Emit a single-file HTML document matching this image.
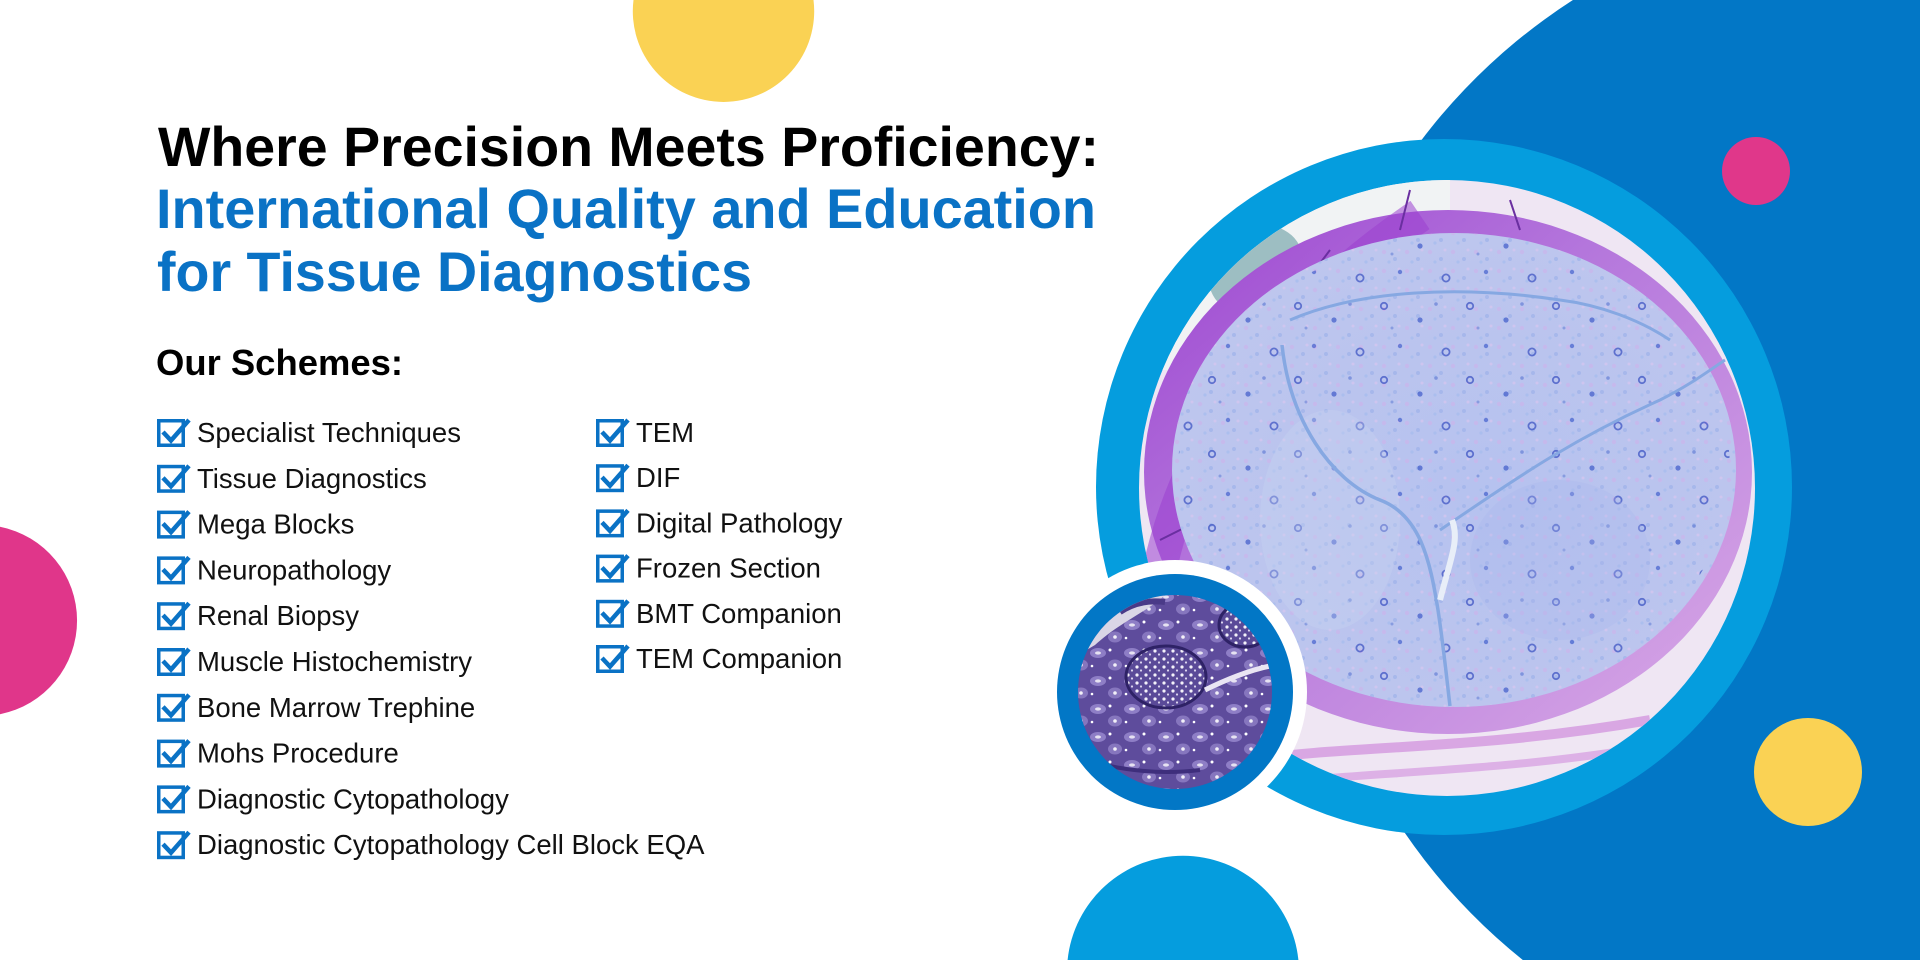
<!DOCTYPE html>
<html>
<head>
<meta charset="utf-8">
<style>
html,body{margin:0;padding:0;width:1920px;height:960px;overflow:hidden;background:#ffffff;}
svg{display:block;overflow:hidden;}
</style>
</head>
<body>
<svg width="1920" height="960" viewBox="0 0 1920 960" xmlns="http://www.w3.org/2000/svg">
<defs>
  <clipPath id="frame"><rect x="0" y="0" width="1920" height="960"/></clipPath>
  <clipPath id="bigClip"><circle cx="1447" cy="488" r="308"/></clipPath>
  <clipPath id="smallClip"><circle cx="1175" cy="692" r="97"/></clipPath>
  <linearGradient id="bandGrad" x1="0" y1="0" x2="1" y2="1">
    <stop offset="0" stop-color="#9C45D0"/>
    <stop offset="0.4" stop-color="#B476DC"/>
    <stop offset="1" stop-color="#D9AAE6"/>
  </linearGradient>
  <radialGradient id="fascGrad" cx="0.55" cy="0.55" r="0.6">
    <stop offset="0" stop-color="#B6C2EF"/>
    <stop offset="1" stop-color="#BEC6EE"/>
  </radialGradient>
  <pattern id="speck" width="23" height="19" patternUnits="userSpaceOnUse">
    <circle cx="4" cy="5" r="2.2" fill="#CBB6EC" opacity="0.7"/>
    <circle cx="15" cy="12" r="2" fill="#9FB2EA" opacity="0.7"/>
    <circle cx="19" cy="3" r="1.5" fill="#D7C7F0" opacity="0.7"/>
    <circle cx="9" cy="15" r="1.6" fill="#A6BDEE" opacity="0.7"/>
  </pattern>
  <pattern id="dots" width="86" height="74" patternUnits="userSpaceOnUse">
    <circle cx="8" cy="10" r="3.2" fill="none" stroke="#2C44BC" stroke-width="1.8"/>
    <circle cx="44" cy="24" r="2.6" fill="#3451C6"/>
    <circle cx="70" cy="56" r="3.6" fill="none" stroke="#2C44BC" stroke-width="1.8"/>
    <circle cx="24" cy="50" r="2.2" fill="#3A58CA"/>
    <circle cx="60" cy="8" r="1.8" fill="#5F7AD4"/>
    <circle cx="16" cy="32" r="1.5" fill="#6C86D8"/>
  </pattern>
  <pattern id="kidney" width="34" height="28" patternUnits="userSpaceOnUse">
    <ellipse cx="10" cy="9" rx="8" ry="5" fill="#8E7EC6"/>
    <ellipse cx="10" cy="9" rx="3" ry="1.6" fill="#E6E2F2"/>
    <ellipse cx="27" cy="21" rx="7" ry="5.5" fill="#8676BE"/>
    <circle cx="27" cy="21" r="1.8" fill="#F2F0F8"/>
    <circle cx="22" cy="6" r="1.5" fill="#FFFFFF"/>
    <circle cx="4" cy="22" r="1.3" fill="#FFFFFF"/>
  </pattern>
  <pattern id="glom" width="9" height="8" patternUnits="userSpaceOnUse">
    <rect width="9" height="8" fill="#5A4A98"/>
    <circle cx="3" cy="3" r="1.6" fill="#F4F2FA"/>
    <circle cx="7" cy="6.5" r="1.1" fill="#DCD6EE"/>
  </pattern>
</defs>

<g clip-path="url(#frame)">
<!-- decorative circles (trimmed to frame) -->
<path d="M1572.9,0 L1920,0 L1920,960 L1522.8,960 A592,592 0 0 1 1572.9,0 Z" fill="#0277C6"/>
<path d="M633.5,0 A90.7,90.7 0 1 0 813.5,0 Z" fill="#FAD254"/>
<path d="M0,526.8 A95.5,95.5 0 0 1 0,714.2 Z" fill="#E0368A"/>
<circle cx="1756" cy="171" r="34" fill="#E0378A"/>
<circle cx="1808" cy="772" r="54" fill="#FAD254"/>
<path d="M1067.6,960 A116,116 0 0 1 1298.4,960 Z" fill="#059DDE"/>

<!-- big ring -->
<circle cx="1444" cy="487" r="348" fill="#059DDE"/>

<!-- big micrograph -->
<g clip-path="url(#bigClip)">
  <rect x="1139" y="180" width="616" height="616" fill="#EFE6F3"/>
  <rect x="1139" y="180" width="311" height="190" fill="#F1F3F4"/>
  <ellipse cx="1256" cy="270" rx="50" ry="42" fill="#9DBEC2" transform="rotate(-35 1256 270)"/>
  <path d="M1250,760 C1350,745 1480,750 1650,720" stroke="#D9A7E3" stroke-width="10" fill="none"/>
  <path d="M1260,785 C1360,772 1500,772 1640,748" stroke="#DDB1E6" stroke-width="8" fill="none"/>
  <ellipse cx="1448" cy="472" rx="304" ry="262" fill="url(#bandGrad)"/>
  <path d="M1150,640 C1160,480 1250,330 1420,215" stroke="#9A3FCF" stroke-width="34" fill="none" opacity="0.55"/>
  <path d="M1180,420 L1230,395 M1200,520 L1160,540 M1300,290 L1330,250 M1400,230 L1410,190 M1510,200 L1520,230" stroke="#6A2FA0" stroke-width="2" fill="none"/>
  <ellipse cx="1454" cy="470" rx="282" ry="237" fill="url(#fascGrad)"/>
  <ellipse cx="1454" cy="470" rx="282" ry="237" fill="url(#speck)"/>
  <ellipse cx="1454" cy="470" rx="276" ry="231" fill="url(#dots)" opacity="0.65"/>
  <ellipse cx="1330" cy="520" rx="70" ry="110" fill="#C9D3F2" opacity="0.35"/>
  <ellipse cx="1560" cy="560" rx="90" ry="80" fill="#A9B6EA" opacity="0.3"/>
  <path d="M1290,320 C1360,290 1460,285 1560,300 C1600,305 1640,320 1670,340" stroke="#86A8E2" stroke-width="3" fill="none"/>
  <path d="M1282,345 C1290,420 1330,480 1380,500 C1420,515 1430,560 1438,610 C1444,650 1448,690 1450,706" stroke="#86A8E2" stroke-width="3.5" fill="none"/>
  <path d="M1440,530 C1500,490 1560,445 1660,400 C1690,385 1710,370 1725,360" stroke="#86A8E2" stroke-width="3" fill="none"/>
  <path d="M1440,600 C1450,560 1460,540 1452,520" stroke="#E8EEF8" stroke-width="6" fill="none"/>
</g>

<!-- small circle -->
<circle cx="1175" cy="692" r="132" fill="#FFFFFF"/>
<circle cx="1175" cy="692" r="118" fill="#0277C6"/>
<g clip-path="url(#smallClip)">
  <rect x="1078" y="595" width="194" height="194" fill="#5E4C9C"/>
  <rect x="1078" y="595" width="194" height="194" fill="url(#kidney)"/>
  <path d="M1078,595 L1165,595 C1150,610 1120,622 1095,645 L1078,655 Z" fill="#DAD6E6"/>
  <path d="M1120,612 C1135,602 1150,600 1165,602" stroke="#4A3A88" stroke-width="6" fill="none"/>
  <ellipse cx="1166" cy="677" rx="40" ry="31" fill="url(#glom)" stroke="#2E2266" stroke-width="3"/>
  <ellipse cx="1245" cy="625" rx="26" ry="22" fill="url(#glom)" stroke="#2E2266" stroke-width="3"/>
  <path d="M1205,690 C1225,680 1250,670 1270,666" stroke="#E9E5F3" stroke-width="5" fill="none"/>
  <path d="M1085,760 C1120,770 1160,775 1200,770" stroke="#3E2E7C" stroke-width="4" fill="none"/>
</g>

<!-- heading -->
<g font-family="Liberation Sans, Arial, sans-serif" font-weight="bold">
  <text x="158" y="166" font-size="56" fill="#000000" textLength="941" lengthAdjust="spacingAndGlyphs">Where Precision Meets Proficiency:</text>
  <text x="156" y="228" font-size="56" fill="#0A72C5" textLength="940" lengthAdjust="spacingAndGlyphs">International Quality and Education</text>
  <text x="157" y="291" font-size="56" fill="#0A72C5" textLength="595" lengthAdjust="spacingAndGlyphs">for Tissue Diagnostics</text>
  <text x="156" y="375" font-size="36" fill="#000000" textLength="247" lengthAdjust="spacingAndGlyphs">Our Schemes:</text>
</g>

<!-- checklist column 1 -->
<g font-family="Liberation Sans, Arial, sans-serif" font-size="27.5" fill="#111111">
  <g transform="translate(0,0)">
    <rect x="158.75" y="420.75" width="24.5" height="24.5" fill="none" stroke="#0A72C5" stroke-width="3.5"/>
    <polyline points="163,432 171,440.5 189,420" fill="none" stroke="#0A72C5" stroke-width="4.5"/>
    <text x="197" y="442">Specialist Techniques</text>
  </g>
  <g transform="translate(0,45.8)">
    <rect x="158.75" y="420.75" width="24.5" height="24.5" fill="none" stroke="#0A72C5" stroke-width="3.5"/>
    <polyline points="163,432 171,440.5 189,420" fill="none" stroke="#0A72C5" stroke-width="4.5"/>
    <text x="197" y="442">Tissue Diagnostics</text>
  </g>
  <g transform="translate(0,91.6)">
    <rect x="158.75" y="420.75" width="24.5" height="24.5" fill="none" stroke="#0A72C5" stroke-width="3.5"/>
    <polyline points="163,432 171,440.5 189,420" fill="none" stroke="#0A72C5" stroke-width="4.5"/>
    <text x="197" y="442">Mega Blocks</text>
  </g>
  <g transform="translate(0,137.4)">
    <rect x="158.75" y="420.75" width="24.5" height="24.5" fill="none" stroke="#0A72C5" stroke-width="3.5"/>
    <polyline points="163,432 171,440.5 189,420" fill="none" stroke="#0A72C5" stroke-width="4.5"/>
    <text x="197" y="442">Neuropathology</text>
  </g>
  <g transform="translate(0,183.2)">
    <rect x="158.75" y="420.75" width="24.5" height="24.5" fill="none" stroke="#0A72C5" stroke-width="3.5"/>
    <polyline points="163,432 171,440.5 189,420" fill="none" stroke="#0A72C5" stroke-width="4.5"/>
    <text x="197" y="442">Renal Biopsy</text>
  </g>
  <g transform="translate(0,229)">
    <rect x="158.75" y="420.75" width="24.5" height="24.5" fill="none" stroke="#0A72C5" stroke-width="3.5"/>
    <polyline points="163,432 171,440.5 189,420" fill="none" stroke="#0A72C5" stroke-width="4.5"/>
    <text x="197" y="442">Muscle Histochemistry</text>
  </g>
  <g transform="translate(0,274.8)">
    <rect x="158.75" y="420.75" width="24.5" height="24.5" fill="none" stroke="#0A72C5" stroke-width="3.5"/>
    <polyline points="163,432 171,440.5 189,420" fill="none" stroke="#0A72C5" stroke-width="4.5"/>
    <text x="197" y="442">Bone Marrow Trephine</text>
  </g>
  <g transform="translate(0,320.6)">
    <rect x="158.75" y="420.75" width="24.5" height="24.5" fill="none" stroke="#0A72C5" stroke-width="3.5"/>
    <polyline points="163,432 171,440.5 189,420" fill="none" stroke="#0A72C5" stroke-width="4.5"/>
    <text x="197" y="442">Mohs Procedure</text>
  </g>
  <g transform="translate(0,366.4)">
    <rect x="158.75" y="420.75" width="24.5" height="24.5" fill="none" stroke="#0A72C5" stroke-width="3.5"/>
    <polyline points="163,432 171,440.5 189,420" fill="none" stroke="#0A72C5" stroke-width="4.5"/>
    <text x="197" y="442">Diagnostic Cytopathology</text>
  </g>
  <g transform="translate(0,412.2)">
    <rect x="158.75" y="420.75" width="24.5" height="24.5" fill="none" stroke="#0A72C5" stroke-width="3.5"/>
    <polyline points="163,432 171,440.5 189,420" fill="none" stroke="#0A72C5" stroke-width="4.5"/>
    <text x="197" y="442">Diagnostic Cytopathology Cell Block EQA</text>
  </g>
</g>

<!-- checklist column 2 -->
<g font-family="Liberation Sans, Arial, sans-serif" font-size="27.5" fill="#111111">
  <g transform="translate(439,0)">
    <rect x="158.75" y="420.75" width="24.5" height="24.5" fill="none" stroke="#0A72C5" stroke-width="3.5"/>
    <polyline points="163,432 171,440.5 189,420" fill="none" stroke="#0A72C5" stroke-width="4.5"/>
    <text x="197" y="442">TEM</text>
  </g>
  <g transform="translate(439,45.2)">
    <rect x="158.75" y="420.75" width="24.5" height="24.5" fill="none" stroke="#0A72C5" stroke-width="3.5"/>
    <polyline points="163,432 171,440.5 189,420" fill="none" stroke="#0A72C5" stroke-width="4.5"/>
    <text x="197" y="442">DIF</text>
  </g>
  <g transform="translate(439,90.4)">
    <rect x="158.75" y="420.75" width="24.5" height="24.5" fill="none" stroke="#0A72C5" stroke-width="3.5"/>
    <polyline points="163,432 171,440.5 189,420" fill="none" stroke="#0A72C5" stroke-width="4.5"/>
    <text x="197" y="442">Digital Pathology</text>
  </g>
  <g transform="translate(439,135.6)">
    <rect x="158.75" y="420.75" width="24.5" height="24.5" fill="none" stroke="#0A72C5" stroke-width="3.5"/>
    <polyline points="163,432 171,440.5 189,420" fill="none" stroke="#0A72C5" stroke-width="4.5"/>
    <text x="197" y="442">Frozen Section</text>
  </g>
  <g transform="translate(439,180.8)">
    <rect x="158.75" y="420.75" width="24.5" height="24.5" fill="none" stroke="#0A72C5" stroke-width="3.5"/>
    <polyline points="163,432 171,440.5 189,420" fill="none" stroke="#0A72C5" stroke-width="4.5"/>
    <text x="197" y="442">BMT Companion</text>
  </g>
  <g transform="translate(439,226)">
    <rect x="158.75" y="420.75" width="24.5" height="24.5" fill="none" stroke="#0A72C5" stroke-width="3.5"/>
    <polyline points="163,432 171,440.5 189,420" fill="none" stroke="#0A72C5" stroke-width="4.5"/>
    <text x="197" y="442">TEM Companion</text>
  </g>
</g>
</g>
</svg>
</body>
</html>
